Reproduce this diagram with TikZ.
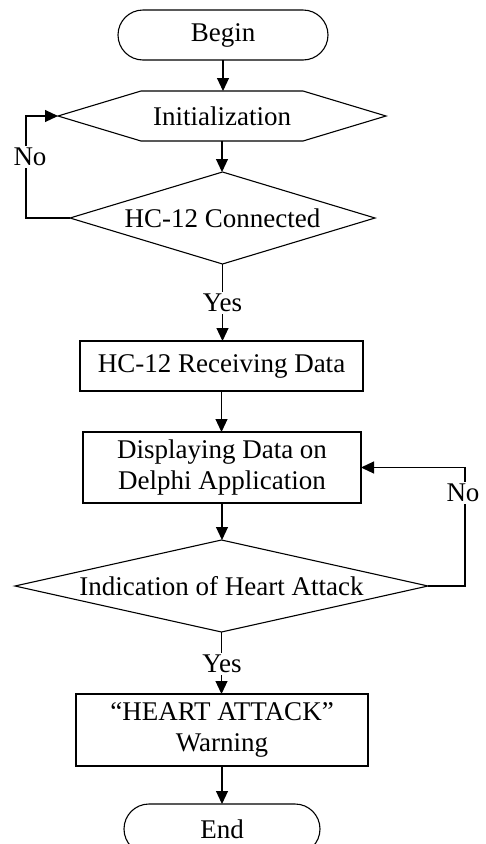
\documentclass[tikz,border=0pt]{standalone}
\usepackage{fontspec}
\setmainfont{Liberation Serif}
\usetikzlibrary{arrows.meta,calc}
\tikzset{
  box/.style={draw=none,rectangle,inner sep=0pt,outer sep=0pt,align=center,font=\fontsize{27}{31.7}\selectfont},
  outline/.style={draw=black,line width=1.1pt},
  conn/.style={line width=1.1pt,-{Triangle[length=13pt,width=12pt]}},
  plain/.style={line width=1.1pt},
  lbl/.style={fill=white,inner sep=2pt,font=\fontsize{27}{31.7}\selectfont}
}
\begin{document}
\begin{tikzpicture}[x=1pt,y=-1pt]
\useasboundingbox (0,0) rectangle (485,844);
\fill[white] (0,0) rectangle (485,844);
% nodes
\node[box,draw=black,line width=1.1pt,rounded corners=25pt,minimum width=210pt,minimum height=50pt] (begin) at (223,35) {Begin};
\node[box,minimum width=328pt,minimum height=50pt] (init) at (222,116) {Initialization};
\node[box,minimum width=305pt,minimum height=92pt] (hc) at (222.5,218) {HC-12 Connected};
\node[box,draw=black,line width=1.1pt,minimum width=283pt,minimum height=50pt] (recv) at (221.5,366) {HC-12 Receiving Data};
\node[box,draw=black,line width=1.1pt,minimum width=278pt,minimum height=71pt] (disp) at (222,467.5) {Displaying Data on\\Delphi Application};
\node[box,minimum width=413pt,minimum height=92pt] (ind) at (221.5,586) {Indication of Heart Attack};
\node[box,draw=black,line width=1.1pt,minimum width=292pt,minimum height=72pt] (warn) at (222,730) {“HEART ATTACK”\\Warning};
\node[box,draw=black,line width=1.1pt,rounded corners=25pt,minimum width=196pt,minimum height=50pt] (end) at (222,829) {End};
% outlines
\draw[outline] (init.west) -- ($(init.north west)+(83,0)$) -- ($(init.north east)+(-83,0)$) -- (init.east) -- ($(init.south east)+(-83,0)$) -- ($(init.south west)+(83,0)$) -- cycle;
\draw[outline] (hc.north) -- (hc.east) -- (hc.south) -- (hc.west) -- cycle;
\draw[outline] (ind.north) -- (ind.east) -- (ind.south) -- (ind.west) -- cycle;
% coordinates
\coordinate (l1) at (26,218);
\coordinate (l2) at (26,116);
\coordinate (r1) at (465,586);
\coordinate (r2) at (465,467.5);
% connectors
\draw[conn] (begin.south) -- (begin.south |- init.north);
\draw[conn] (init.south) -- (init.south |- hc.north);
\draw[conn] (hc.south) -- (hc.south |- recv.north);
\draw[conn] (recv.south) -- (recv.south |- disp.north);
\draw[conn] (disp.south) -- (disp.south |- ind.north);
\draw[conn] (ind.south) -- (ind.south |- warn.north);
\draw[conn] (warn.south) -- (warn.south |- end.north);
\draw[conn] (hc.west) -- (l1) -- (l2) -- (init.west);
\draw[conn] (ind.east) -- (r1) -- (r2) -- (disp.east);
% labels
\node[lbl] (no1) at (30,157) {No};
\node[lbl] (no2) at (463,493) {No};
\node[lbl] (yes1) at (222.5,303) {Yes};
\node[lbl] (yes2) at (222,664) {Yes};
\end{tikzpicture}
\end{document}
